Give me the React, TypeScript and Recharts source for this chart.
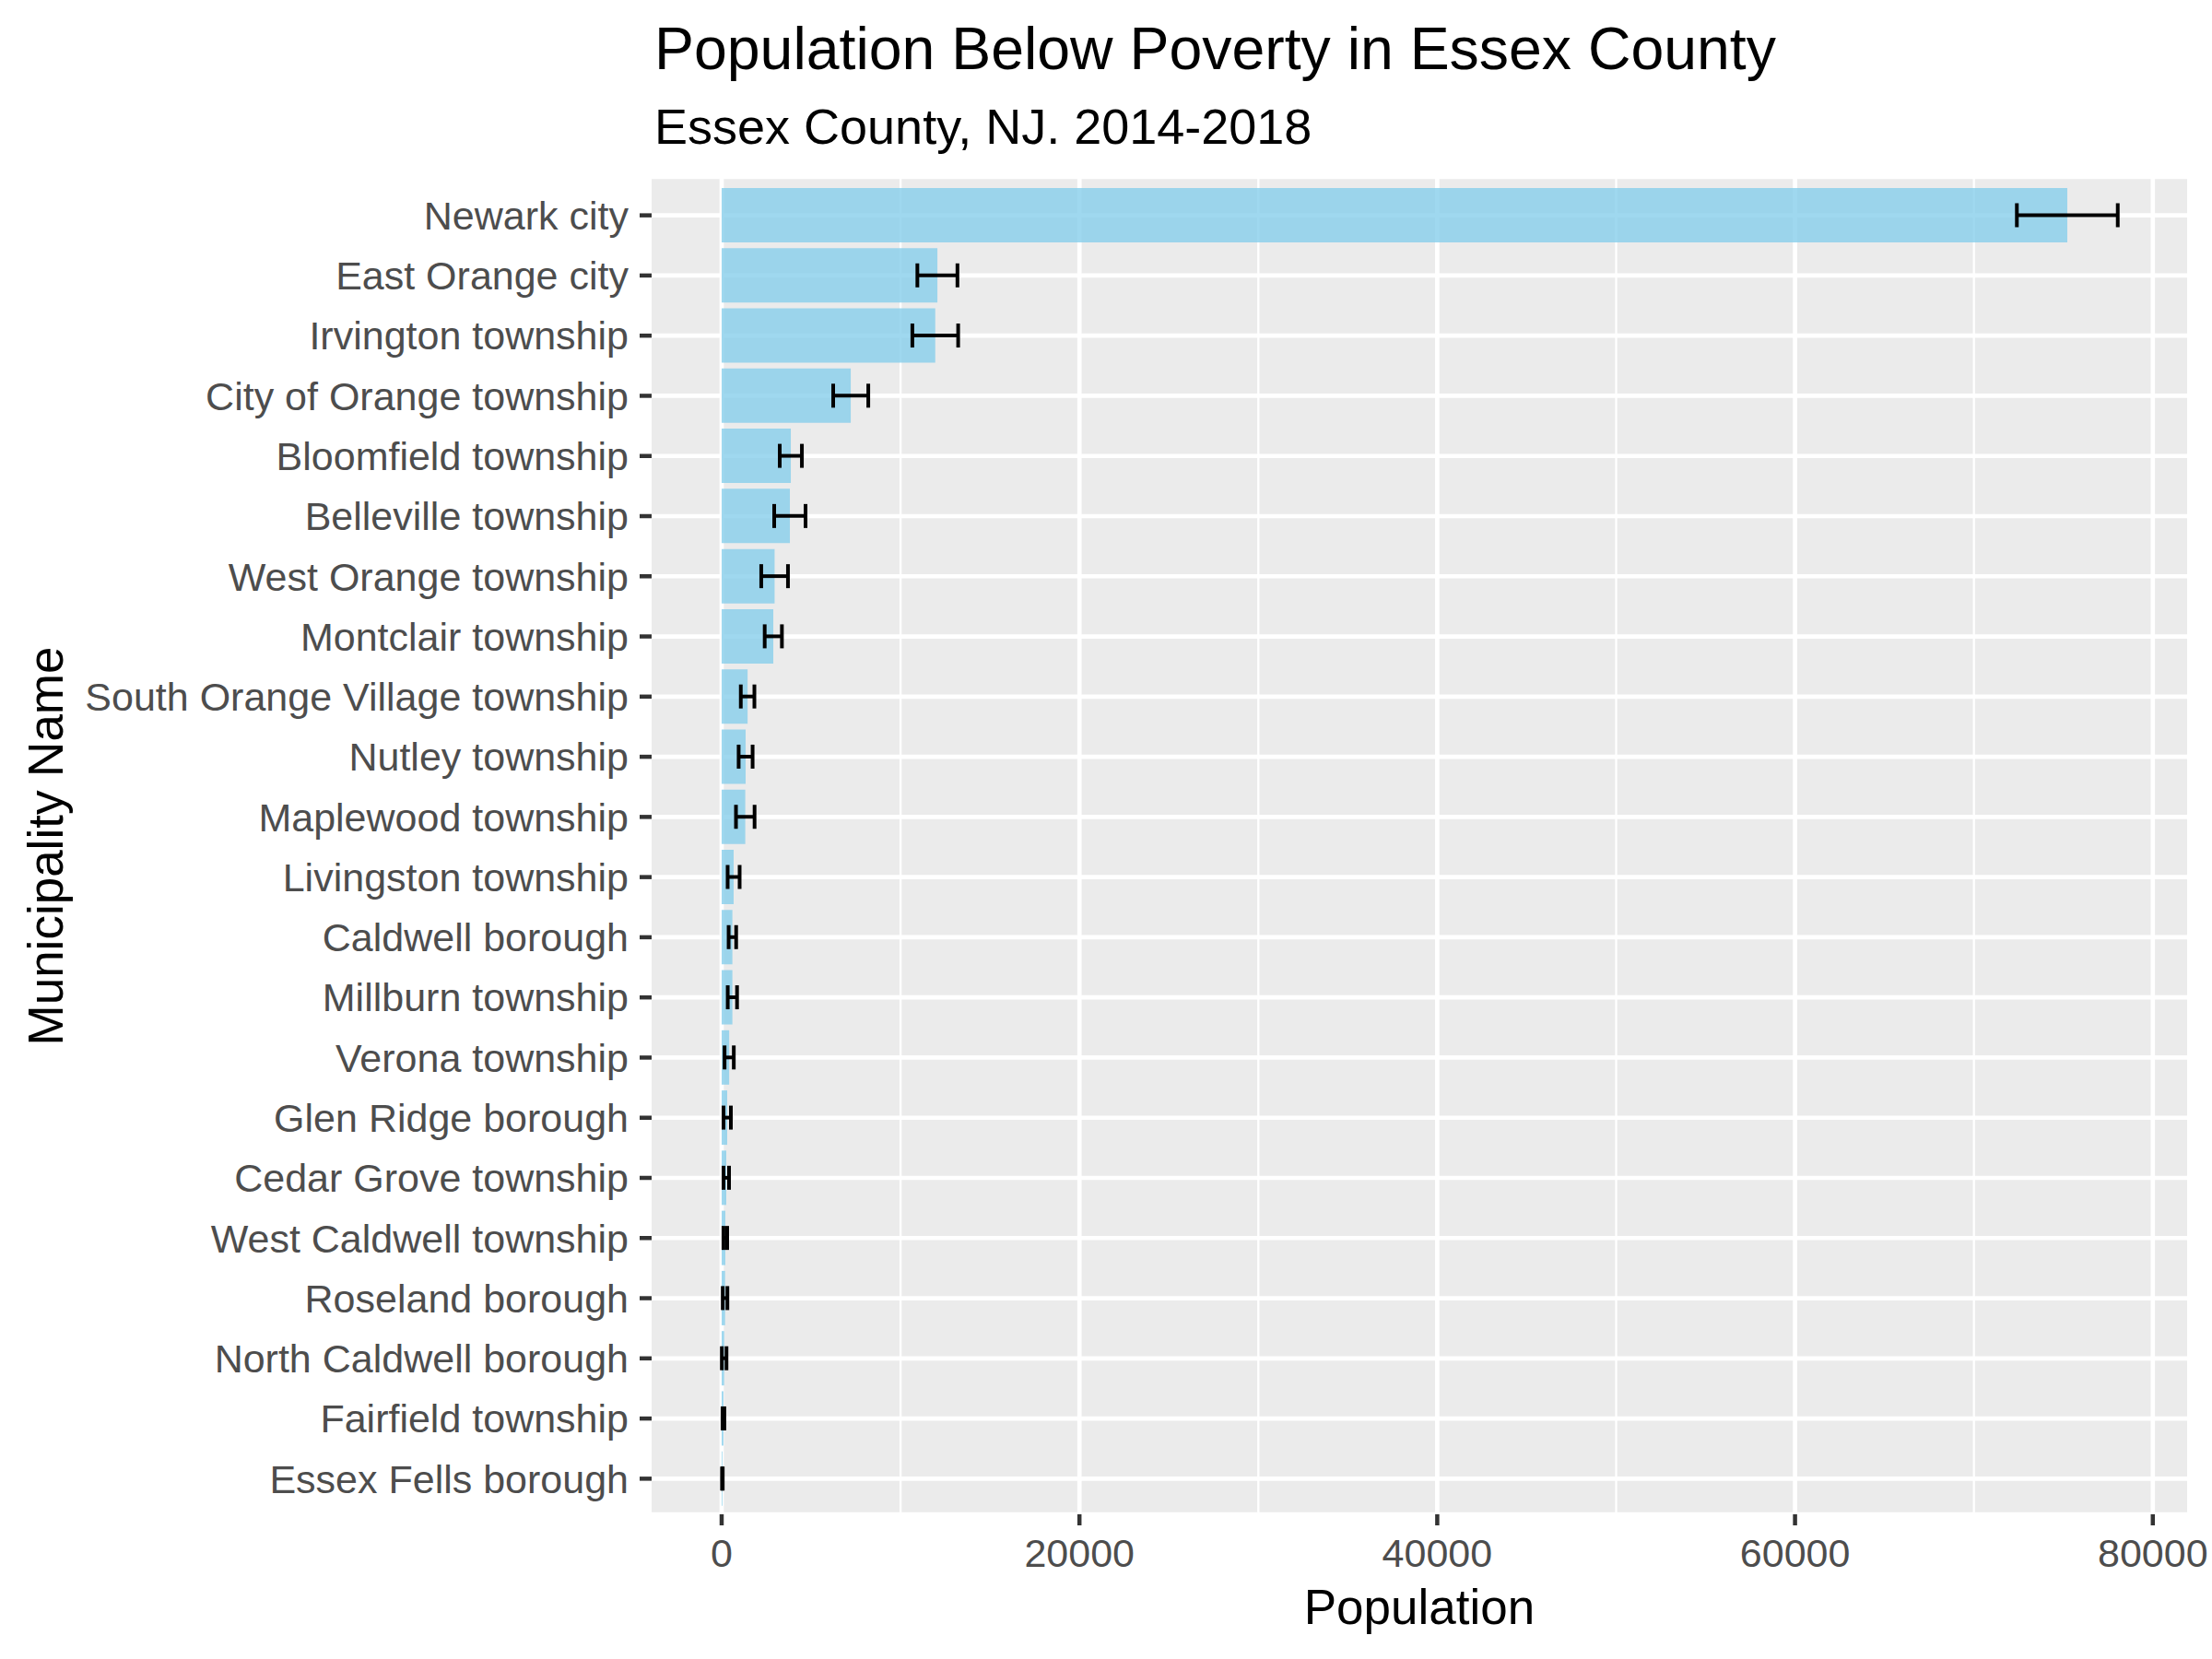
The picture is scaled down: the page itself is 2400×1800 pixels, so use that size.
import React from 'react';
import { BarChart, Bar, XAxis, YAxis, CartesianGrid, ErrorBar } from 'recharts';

const municipalities = [
  'Newark city', 'East Orange city', 'Irvington township', 'City of Orange township',
  'Bloomfield township', 'Belleville township', 'West Orange township', 'Montclair township',
  'South Orange Village township', 'Nutley township', 'Maplewood township', 'Livingston township',
  'Caldwell borough', 'Millburn township', 'Verona township', 'Glen Ridge borough',
  'Cedar Grove township', 'West Caldwell township', 'Roseland borough', 'North Caldwell borough',
  'Fairfield township', 'Essex Fells borough',
];
const populations = [
  75220, 12060, 11940, 7216, 3866, 3814, 2960, 2887, 1450, 1340, 1320, 670,
  600, 600, 420, 309, 258, 205, 190, 140, 100, 40,
];
const margins = [
  2820, 1120, 1280, 980, 619, 876, 747, 481, 380, 390, 520, 335,
  210, 260, 258, 206, 155, 105, 130, 130, 52, 20,
];
const xTicks = [0, 20000, 40000, 60000, 80000];
const xMinorGrid = [10000, 30000, 50000, 70000];
const xDomain = [-3915, 81917];

const data = municipalities.map((name, i) => ({ name, value: populations[i], moe: margins[i] }));

const FONT = '"Liberation Sans", Arial, sans-serif';

export default function App() {
  return (
    <div style={{ position: 'absolute', left: 0, top: 0, width: 2400, height: 1800, background: '#fff' }}>
      <BarChart
        width={2400}
        height={1800}
        data={data}
        layout="vertical"
        margin={{ top: 192, right: 27, bottom: 0, left: 0 }}
      >
        <CartesianGrid
          fill="#EBEBEB"
          stroke="#FFFFFF"
          strokeWidth={2.3}
          horizontal={false}
          verticalValues={xMinorGrid}
        />
        <CartesianGrid
          stroke="#FFFFFF"
          strokeWidth={4.7}
          verticalValues={xTicks}
        />
        <XAxis
          type="number"
          domain={xDomain}
          allowDataOverflow
          ticks={xTicks}
          height={157}
          axisLine={false}
          tickLine={{ stroke: '#333333', strokeWidth: 4.5 }}
          tickSize={12}
          tickMargin={14}
          tick={{ fill: '#4D4D4D', fontSize: 43, fontFamily: FONT }}
        />
        <YAxis
          type="category"
          dataKey="name"
          width={707}
          padding={{ top: 9, bottom: 6 }}
          axisLine={false}
          tickLine={{ stroke: '#333333', strokeWidth: 4.5 }}
          tickSize={13}
          tickMargin={12}
          interval={0}
          tick={{ fill: '#4D4D4D', fontSize: 43, fontFamily: FONT }}
        />
        <Bar dataKey="value" fill="#87CEEB" fillOpacity={0.8} barSize={59} isAnimationActive={false}>
          <ErrorBar dataKey="moe" direction="x" width={13} strokeWidth={4} stroke="#000000" isAnimationActive={false} />
        </Bar>
      </BarChart>
      <svg
        width={2400}
        height={1800}
        style={{ position: 'absolute', left: 0, top: 0, pointerEvents: 'none' }}
      >
        <text x={710} y={75} fontSize={64.4} fontFamily={FONT} fill="#000">Population Below Poverty in Essex County</text>
        <text x={710} y={156} fontSize={54} fontFamily={FONT} fill="#000">Essex County, NJ. 2014-2018</text>
        <text x={1540} y={1762} fontSize={53} fontFamily={FONT} fill="#000" textAnchor="middle">Population</text>
        <text
          x={68}
          y={918}
          fontSize={53}
          fontFamily={FONT}
          fill="#000"
          textAnchor="middle"
          transform="rotate(-90 68 918)"
        >
          Municipality Name
        </text>
      </svg>
    </div>
  );
}
